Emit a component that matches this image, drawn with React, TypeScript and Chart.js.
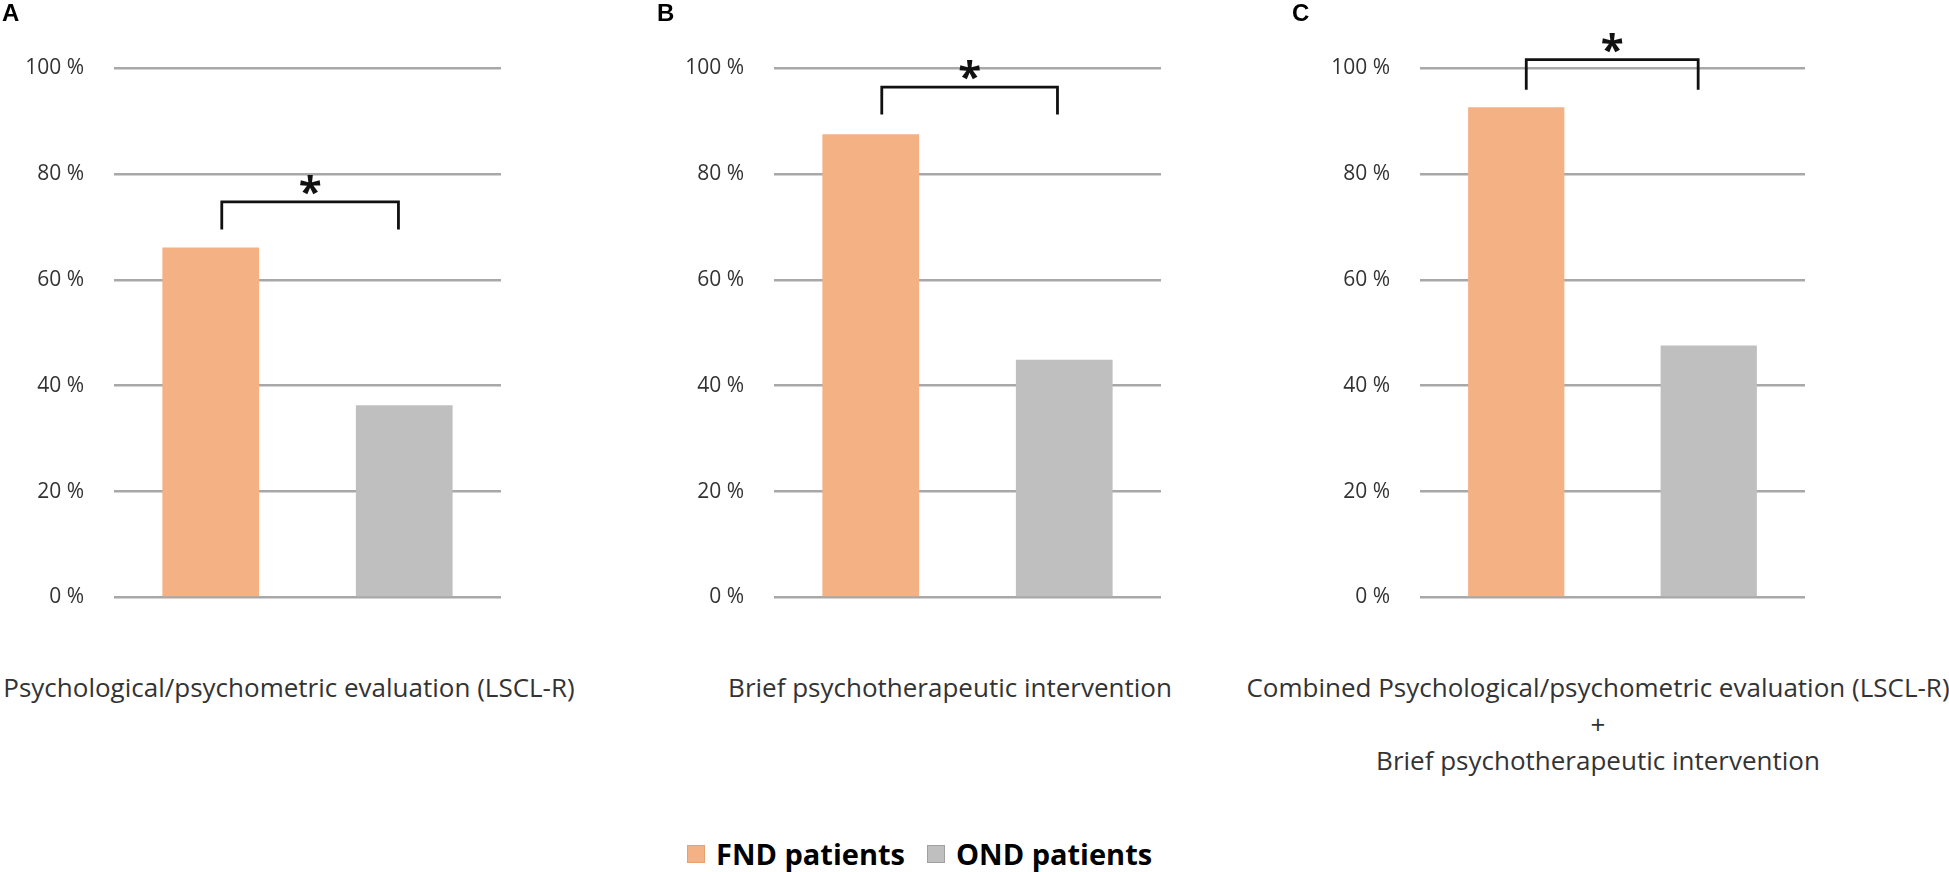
import React, { useEffect, useRef } from 'react';
import { Chart, registerables } from 'chart.js';

Chart.register(...registerables);

// ---------- data ----------
const panelLetters = ['A', 'B', 'C'];
const seriesNames = ['FND patients', 'OND patients'];
const fndValues = [66.1, 87.5, 92.6];
const ondValues = [36.3, 44.9, 47.6];
const yTickStep = 20;
const yMax = 100;
const bracketTop = [74.7, 96.4, 101.6];
const bracketLegBottom = [69.5, 91.2, 95.9];
const bracketFrom = [0.057, 0.057, 0.052];
const bracketTo = [0.97, 0.965, 0.945];
const significance = ['*', '*', '*'];
const categoryLabels = [
  ['Psychological/psychometric evaluation (LSCL-R)'],
  ['Brief psychotherapeutic intervention'],
  ['Combined Psychological/psychometric evaluation (LSCL-R)', '+', 'Brief psychotherapeutic intervention'],
];

// ---------- style / layout ----------
const ORANGE = '#F4B183';
const GREY = '#BFBFBF';
const GRID = '#A8A8A8';
const TEXT = '#333333';
const FONT = '"Open Sans", sans-serif';

const CANVAS_W = 640;
const CANVAS_H = 640;
const PAD_TOP = 68;
const PAD_BOTTOM = 18;
const panels = [
  { left: 0, axisW: 114, padRight: 139, letterX: 2, labelCx: 289 },
  { left: 650, axisW: 124, padRight: 129, letterX: 657, labelCx: 950 },
  { left: 1300, axisW: 120, padRight: 135, letterX: 1292, labelCx: 1598 },
];

function makeBracketPlugin(i: number) {
  return {
    id: 'sigBracket' + i,
    afterDatasetsDraw(chart: any) {
      const { ctx, scales } = chart;
      const xs = scales.x;
      const ys = scales.y;
      const x1 = xs.getPixelForValue(bracketFrom[i]);
      const x2 = xs.getPixelForValue(bracketTo[i]);
      const yT = ys.getPixelForValue(bracketTop[i]);
      const yB = ys.getPixelForValue(bracketLegBottom[i]);
      ctx.save();
      ctx.strokeStyle = '#111111';
      ctx.lineWidth = 2.8;
      ctx.lineJoin = 'miter';
      ctx.beginPath();
      ctx.moveTo(x1, yB);
      ctx.lineTo(x1, yT);
      ctx.lineTo(x2, yT);
      ctx.lineTo(x2, yB);
      ctx.stroke();
      ctx.fillStyle = '#111111';
      ctx.font = 'bold 42px ' + FONT;
      ctx.textAlign = 'center';
      ctx.textBaseline = 'alphabetic';
      const m = ctx.measureText(significance[i]);
      const cy = yT - 17;
      const off = (m.actualBoundingBoxAscent - m.actualBoundingBoxDescent) / 2;
      ctx.fillText(significance[i], (x1 + x2) / 2, cy + off);
      ctx.restore();
    },
  };
}

function Panel({ i }: { i: number }) {
  const ref = useRef<HTMLCanvasElement | null>(null);
  useEffect(() => {
    if (!ref.current) return;
    const p = panels[i];
    const chart = new Chart(ref.current, {
      type: 'bar',
      data: {
        labels: seriesNames,
        datasets: [
          {
            data: [fndValues[i], ondValues[i]],
            backgroundColor: [ORANGE, GREY],
            borderWidth: 0,
            categoryPercentage: 0.5,
            barPercentage: 1,
          },
        ],
      },
      options: {
        animation: false,
        responsive: false,
        devicePixelRatio: 1,
        layout: { padding: { top: PAD_TOP, bottom: PAD_BOTTOM, left: 0, right: p.padRight } },
        plugins: { legend: { display: false }, tooltip: { enabled: false }, title: { display: false } },
        scales: {
          x: { display: false },
          y: {
            min: 0,
            max: yMax,
            afterFit: (s: any) => {
              s.width = p.axisW;
            },
            border: { display: false },
            grid: { color: GRID, lineWidth: 2.5, drawTicks: false },
            ticks: {
              stepSize: yTickStep,
              padding: 30,
              color: TEXT,
              font: { family: FONT, size: 21 },
              callback: (v: any) => v + ' %',
            },
          },
        },
      },
      plugins: [makeBracketPlugin(i)],
    });
    return () => chart.destroy();
  }, [i]);
  const p = panels[i];
  return (
    <>
      <canvas
        ref={ref}
        width={CANVAS_W}
        height={CANVAS_H}
        style={{ position: 'absolute', left: p.left, top: 0, width: CANVAS_W, height: CANVAS_H }}
      />
      <div
        style={{
          position: 'absolute',
          left: p.letterX,
          top: 1,
          fontFamily: '"Liberation Sans", Arial, sans-serif',
          fontWeight: 'bold',
          fontSize: 24,
          lineHeight: '24px',
          color: '#000',
        }}
      >
        {panelLetters[i]}
      </div>
      <div
        style={{
          position: 'absolute',
          left: p.labelCx - 400,
          width: 800,
          top: 669,
          textAlign: 'center',
          fontFamily: FONT,
          fontSize: 26,
          lineHeight: '36.5px',
          color: TEXT,
          whiteSpace: 'nowrap',
        }}
      >
        {categoryLabels[i].map((t, k) => (
          <div key={k}>{t}</div>
        ))}
      </div>
    </>
  );
}

export default function App() {
  const legendColors = [ORANGE, GREY];
  const legendBorders = ['#E8A070', '#A0A0A0'];
  return (
    <div
      style={{
        position: 'absolute',
        left: 0,
        top: 0,
        width: 1949,
        height: 872,
        background: '#fff',
        overflow: 'hidden',
      }}
    >
      {panels.map((_, i) => (
        <Panel key={i} i={i} />
      ))}
      <div
        style={{
          position: 'absolute',
          left: 687,
          top: 836,
          display: 'flex',
          alignItems: 'center',
          fontFamily: FONT,
          fontWeight: 'bold',
          fontSize: 29,
          lineHeight: '36px',
          color: '#000',
          whiteSpace: 'nowrap',
        }}
      >
        {seriesNames.map((n, k) => (
          <div key={k} style={{ display: 'flex', alignItems: 'center', marginRight: 22 }}>
            <span
              style={{
                display: 'inline-block',
                width: 16,
                height: 16,
                background: legendColors[k],
                border: '1px solid ' + legendBorders[k],
                marginRight: 11,
              }}
            />
            <span>{n}</span>
          </div>
        ))}
      </div>
    </div>
  );
}
